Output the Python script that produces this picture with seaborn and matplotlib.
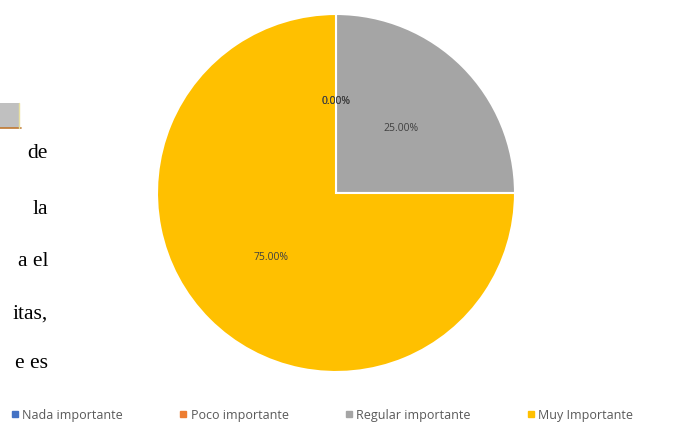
import matplotlib
matplotlib.use('Agg')
import matplotlib.pyplot as plt
import seaborn as sns
from matplotlib.patches import Rectangle
from matplotlib.lines import Line2D

sns.set_theme(style="white")
plt.rcParams['font.family'] = ['Open Sans', 'DejaVu Sans']

# data
categories = ["Nada importante", "Poco importante", "Regular importante", "Muy Importante"]
values = [0.0, 0.0, 25.0, 75.0]
colors = ["#4472C4", "#ED7D31", "#A5A5A5", "#FFC000"]

# fragments of the surrounding document text (cut off on the left)
doc_words = ["de", "la", "a el", "itas,", "e es"]
doc_rows_px = [153, 210, 262, 314, 364]

W, H = 677, 426
fig = plt.figure(figsize=(W / 100, H / 100), dpi=100)
fig.patch.set_facecolor("white")

# pie axes: centre (336, 193), radius ~179 px
cx, cy, r = 336, 193, 179
ax = fig.add_axes([(cx - r) / W, (H - cy - r) / H, 2 * r / W, 2 * r / H])
wedges, texts, autotexts = ax.pie(
    values, colors=colors, startangle=90, counterclock=False,
    autopct="%.2f%%", pctdistance=0.51, radius=1.0,
    wedgeprops=dict(edgecolor="white", linewidth=1.5),
    textprops=dict(fontsize=7.5, color="#404040"))
ax.set_xlim(-1, 1)
ax.set_ylim(-1, 1)
ax.set_aspect("equal")
ax.axis("off")

# legend below the pie
handles = [Line2D([0], [0], marker="s", linestyle="", markersize=4,
                  markerfacecolor=c, markeredgecolor=c) for c in colors]
fig.legend(handles, categories, loc="center", bbox_to_anchor=(0.475, 1 - 415 / H),
           ncol=4, frameon=False, fontsize=9, labelcolor="#595959",
           handletextpad=0.2, columnspacing=4.4, handlelength=0.8)

# text cut off from the document on the left
for word, ypx in zip(doc_words, doc_rows_px):
    fig.text(48 / W, 1 - ypx / H, word, ha="right", va="center",
             fontsize=15.5, family=["Liberation Serif", "DejaVu Serif"], color="black")

# piece of a previous chart at the top left
fig.patches.append(Rectangle((0, 1 - 128 / H), 19 / W, 25 / H, transform=fig.transFigure,
                             facecolor="#C0C0C0", edgecolor="none"))
fig.lines.append(Line2D([0, 21 / W], [1 - 128 / H, 1 - 128 / H], transform=fig.transFigure,
                        color="#C07830", linewidth=1.2))
fig.lines.append(Line2D([19 / W, 19 / W], [1 - 128 / H, 1 - 103 / H], transform=fig.transFigure,
                        color="#E8E0A0", linewidth=1))

fig.savefig("out.png", dpi=100, facecolor="white")
